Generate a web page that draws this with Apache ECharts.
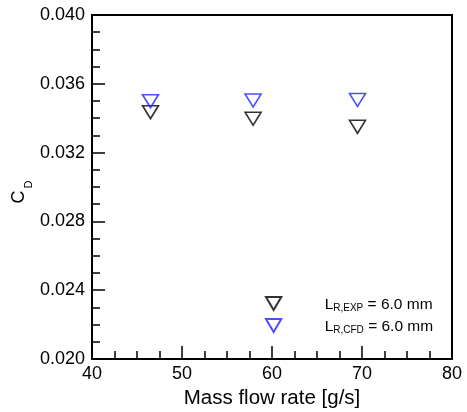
<!DOCTYPE html>
<html>
<head>
<meta charset="utf-8">
<script src="https://cdn.jsdelivr.net/npm/echarts@6/dist/echarts.min.js"></script>
<style>html,body{margin:0;padding:0;background:#fff}#c{width:467px;height:412px}</style>
</head>
<body>
<div id="c"></div>
<script>
const massFlow = [46.5, 57.9, 69.5];
const cdExp = [0.03435, 0.03397, 0.0335];
const cdCfd = [0.03499, 0.03503, 0.03506];
const seriesNames = ['EXP', 'CFD'];
const legendSub = ['R,EXP', 'R,CFD'];
const legendValue = ' = 6.0 mm';

const tri = 'path://M0,0L20,0L10,17Z';
const font = 'Liberation Sans, Arial, sans-serif';
const chart = echarts.init(document.getElementById('c'));
chart.setOption({
  animation: false,
  grid: {left: 92, right: 15, top: 15, bottom: 53, show: true, borderColor: '#000', borderWidth: 2,
         containLabel: false, outerBoundsMode: 'none'},
  xAxis: {
    type: 'value', min: 40, max: 80, interval: 10,
    name: 'Mass flow rate [g/s]', nameLocation: 'middle', nameGap: 29, nameMoveOverlap: false,
    nameTextStyle: {fontFamily: font, fontSize: 20.5, color: '#000'},
    axisLine: {lineStyle: {color: '#000', width: 2}},
    axisTick: {inside: true, length: 13, lineStyle: {color: '#000', width: 1.5}},
    minorTick: {show: true, splitNumber: 4, length: 8, lineStyle: {color: '#000', width: 1.5}},
    axisLabel: {fontFamily: font, fontSize: 18, color: '#000', margin: 6},
    splitLine: {show: false}
  },
  yAxis: {
    type: 'value', min: 0.020, max: 0.040, interval: 0.004,
    name: '{c|C}{d|D}', nameLocation: 'middle', nameGap: 58, nameRotate: 90, nameMoveOverlap: false,
    nameTextStyle: {rich: {
      c: {fontFamily: font, fontSize: 18, color: '#000', lineHeight: 18, padding: [0, 0, 12, 0]},
      d: {fontFamily: font, fontSize: 11, color: '#000', lineHeight: 11, verticalAlign: 'bottom', padding: [0, 10, 0, 2]}
    }},
    axisLine: {lineStyle: {color: '#000', width: 2}},
    axisTick: {inside: true, length: 13, lineStyle: {color: '#000', width: 1.5}},
    minorTick: {show: true, splitNumber: 4, length: 8, lineStyle: {color: '#000', width: 1.5}},
    axisLabel: {fontFamily: font, fontSize: 18, color: '#000', margin: 7, formatter: v => v.toFixed(3)},
    splitLine: {show: false}
  },
  legend: {
    orient: 'vertical', left: 265, top: 291, padding: 0, itemGap: -6, itemWidth: 16, itemHeight: 13,
    data: seriesNames,
    formatter: n => '{L|L}{s|' + legendSub[seriesNames.indexOf(n)] + '}{a|' + legendValue + '}',
    textStyle: {padding: [3, 0, 0, 0], rich: {
      L: {fontFamily: font, fontSize: 15.5, color: '#000', lineHeight: 16, padding: [6, 0, 6, 38]},
      s: {fontFamily: font, fontSize: 10, color: '#000', lineHeight: 10, verticalAlign: 'bottom'},
      a: {fontFamily: font, fontSize: 15.5, color: '#000', lineHeight: 16, padding: [6, 0, 6, 0]}
    }}
  },
  series: [
    {name: seriesNames[0], type: 'scatter', symbol: tri, symbolSize: [16, 13],
     itemStyle: {color: 'rgba(255,255,255,0)', borderColor: '#000', borderWidth: 1.6},
     data: massFlow.map((x, i) => [x, cdExp[i]])},
    {name: seriesNames[1], type: 'scatter', symbol: tri, symbolSize: [16, 13],
     itemStyle: {color: 'rgba(255,255,255,0)', borderColor: '#2222ff', borderWidth: 1.6},
     data: massFlow.map((x, i) => [x, cdCfd[i]])}
  ]
});
</script>
</body>
</html>
